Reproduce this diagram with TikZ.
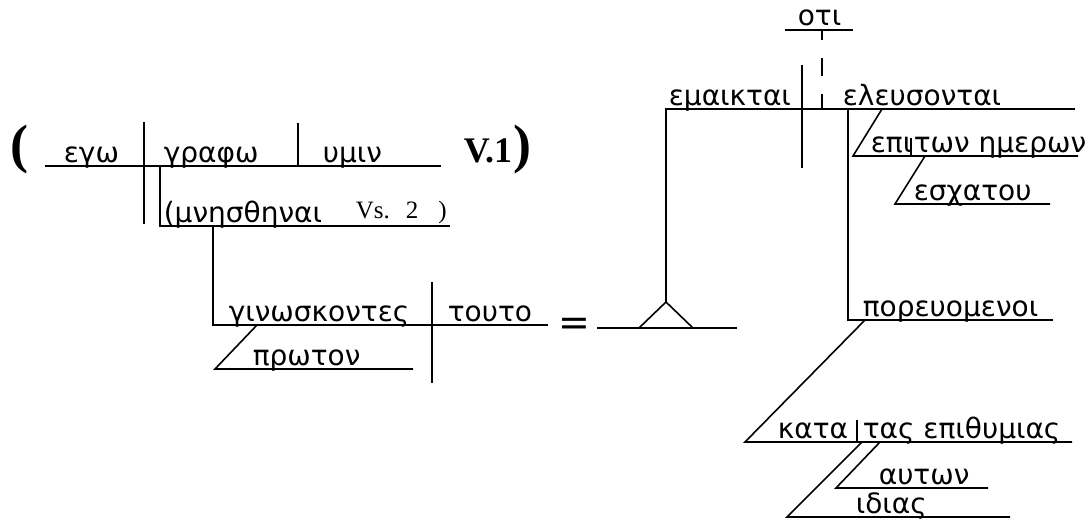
\documentclass[tikz,border=0pt]{standalone}
\usepackage{fontspec}
\newfontfamily\grk{DejaVu Sans}
\newfontfamily\lat{Liberation Serif}
\begin{document}
\begin{tikzpicture}[x=0.5pt,y=-0.5pt,line width=0.8pt,
    word/.style={anchor=base west,inner sep=0pt,font=\grk\fontsize{14}{16}\selectfont},
    verse/.style={anchor=base west,inner sep=0pt,font=\lat\fontsize{12.5}{14}\selectfont},
    vnum/.style={anchor=base west,inner sep=0pt,font=\lat\bfseries\fontsize{18}{20}\selectfont},
    paren/.style={anchor=base west,inner sep=0pt,font=\lat\bfseries\fontsize{27}{30}\selectfont}]
    \useasboundingbox (0,0) rectangle (1085,522);
    \node[paren] (lp) at (10,163) {(};
    \node[word] (ego) at (63,163) {εγω};
    \node[word] (grapho) at (163,163) {γραφω};
    \node[word] (humin) at (322,163) {υμιν};
    \node[vnum] (v1) at (463,163) {V.1};
    \node[paren] (rp) at (513,163) {)};
    \node[word] (mnes) at (163,223) {(μνησθηναι};
    \node[verse] (vs2) at (355,219) {Vs.\hspace{8pt}2\hspace{10pt})};
    \node[word] (ginos) at (228,322) {γινωσκοντες};
    \node[word] (touto) at (447,322) {τουτο};
    \node[word] (proton) at (252,366) {πρωτον};
    \node[anchor=center,inner sep=0pt,font=\grk\fontsize{19}{21}\selectfont] (eq) at (574,327) {=};
    \node[word] (oti) at (797,26) {οτι};
    \node[word] (emaik) at (668,106) {εμαικται};
    \node[word] (eleus) at (842,106) {ελευσονται};
    \node[word] (epi) at (870,153) {επι};
    \node[word] (ton) at (913,153) {των ημερων};
    \node[word] (eschat) at (913,201) {εσχατου};
    \node[word] (poreu) at (862,317) {πορευομενοι};
    \node[word] (kata) at (777,439) {κατα};
    \node[word] (tas) at (862,439) {τας επιθυμιας};
    \node[word] (auton) at (878,485) {αυτων};
    \node[word] (idias) at (855,514) {ιδιας};
    \draw (45,166) -- (441,166);
    \draw (160,166) |- (450,226);
    \draw (213,226) |- (548,325);
    \draw (257,325) -- (215,369) -- (413,369);
    \draw (597,328) -- (737,328);
    \draw (639,328) -- (666,302) -- (693,328);
    \draw (666,302) |- (1075,109);
    \draw (785,30) -- (853,30);
    \draw[dash pattern=on 9pt off 9pt,dash phase=4pt] (822,30) -- (822,109);
    \draw (848,109) |- (1053,320);
    \draw (882,109) -- (853,156) -- (1078,156);
    \draw (925,156) -- (895,204) -- (1050,204);
    \draw (865,320) -- (745,442) -- (1072,442);
    \draw (880,442) -- (836,488) -- (988,488);
    \draw (862,442) -- (787,517) -- (1010,517);
    \foreach \x/\a/\b in {144/122/224, 298/123/166, 432/282/383, 802/65/168, 911/138/156, 857/420/442}
      \draw (\x,\a) -- (\x,\b);
\end{tikzpicture}
\end{document}
